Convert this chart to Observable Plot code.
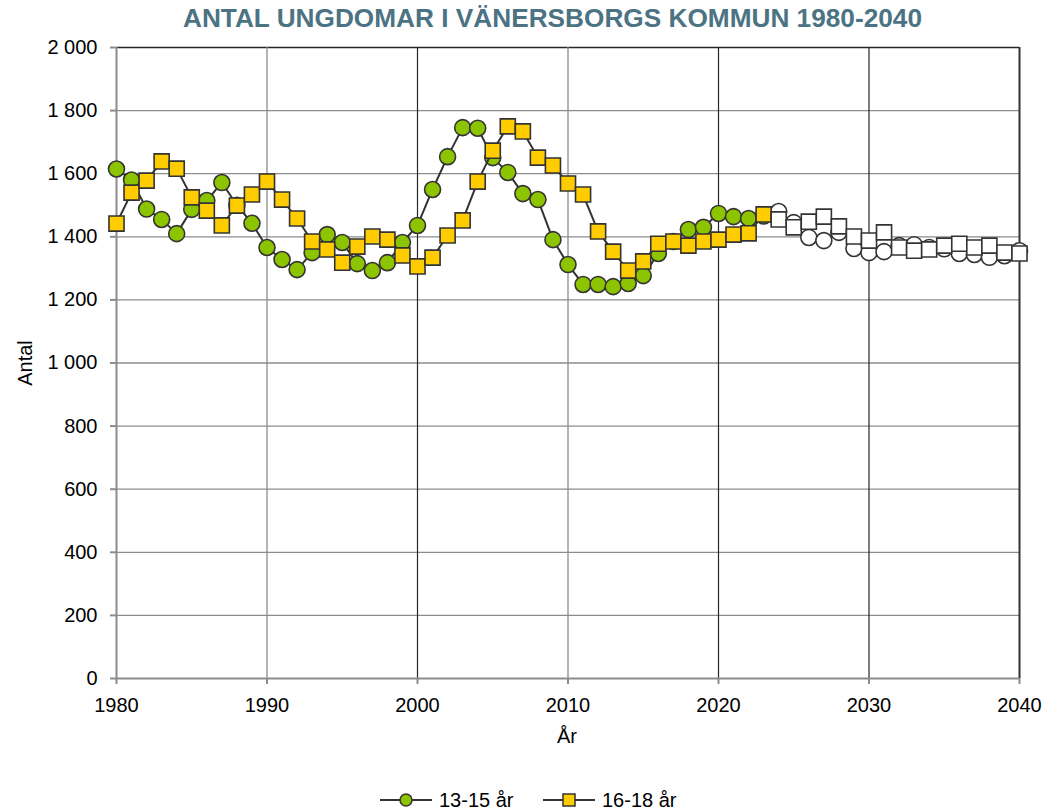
<!DOCTYPE html>
<html><head><meta charset="utf-8">
<script src="https://cdn.jsdelivr.net/npm/d3@7"></script>
<script src="https://cdn.jsdelivr.net/npm/@observablehq/plot@0.6"></script>
<style>
body{margin:0;background:#fff;font-family:"Liberation Sans",Arial,sans-serif;}
#title,#chart,#legend{width:1047px;}
svg{display:block;}
</style>
</head><body>
<div id="title"></div><div id="chart"></div><div id="legend"></div>
<script>
const titleText = "ANTAL UNGDOMAR I VÄNERSBORGS KOMMUN 1980-2040";
const yLabel = "Antal";
const xLabel = "År";
const seriesNames = ["13-15 år", "16-18 år"];

const years = [1980,1981,1982,1983,1984,1985,1986,1987,1988,1989,
  1990,1991,1992,1993,1994,1995,1996,1997,1998,1999,
  2000,2001,2002,2003,2004,2005,2006,2007,2008,2009,
  2010,2011,2012,2013,2014,2015,2016,2017,2018,2019,
  2020,2021,2022,2023,2024,2025,2026,2027,2028,2029,
  2030,2031,2032,2033,2034,2035,2036,2037,2038,2039,2040];

const age13_15 = [1615,1580,1488,1455,1410,1487,1515,1572,1500,1443,
  1366,1328,1296,1350,1407,1382,1315,1293,1318,1382,
  1436,1550,1654,1746,1744,1651,1604,1537,1518,1391,
  1312,1249,1249,1242,1252,1277,1347,1385,1423,1430,
  1474,1464,1458,1466,1480,1445,1398,1388,1414,1363,
  1350,1353,1372,1375,1366,1362,1347,1344,1335,1340,1356];

const age16_18 = [1442,1540,1578,1639,1616,1525,1483,1436,1499,1534,
  1575,1518,1458,1385,1360,1318,1369,1401,1391,1341,
  1306,1334,1404,1452,1575,1673,1750,1734,1651,1626,
  1569,1534,1417,1353,1293,1322,1378,1385,1372,1385,
  1391,1407,1411,1471,1455,1430,1448,1464,1433,1401,
  1388,1414,1366,1356,1360,1372,1378,1366,1372,1350,1347];

const projectionStart = 2024;
const yTicks = [0,200,400,600,800,1000,1200,1400,1600,1800,2000];
const xTicks = [1980,1990,2000,2010,2020,2030,2040];

const green = "#8dc400", yellow = "#ffcc00", ink = "#333333";
const grid = "#8c8c8c", darkGrid = "#262626";

const rows = years.map((year, i) => ({year, v13: age13_15[i], v16: age16_18[i]}));
const hist = rows.filter(d => d.year < projectionStart);
const proj = rows.filter(d => d.year >= projectionStart);

const fmt = d3.formatLocale({decimal: ",", thousands: "\u00a0", grouping: [3], currency: ["", " kr"]}).format(",d");

// Title
const tsvg = d3.select("#title").append("svg").attr("width", 1047).attr("height", 36);
tsvg.append("text").attr("x", 183).attr("y", 27)
  .attr("textLength", 739).attr("lengthAdjust", "spacingAndGlyphs")
  .style("font-family", "'Liberation Sans Narrow','Liberation Sans',Arial,sans-serif")
  .style("font-weight", "bold").style("font-size", "26px").attr("fill", "#4b7383")
  .text(titleText);

const chart = Plot.plot({
  width: 1047, height: 720,
  marginLeft: 116, marginRight: 28, marginTop: 11, marginBottom: 78,
  style: {fontFamily: "'Liberation Sans',Arial,sans-serif", fontSize: "20px", color: "black", background: "white"},
  x: {domain: [1980, 2040]},
  y: {domain: [0, 2000]},
  marks: [
    Plot.ruleY(yTicks.filter(t => t > 0 && t < 2000), {stroke: grid, strokeWidth: 1.3}),
    Plot.ruleY([2000], {stroke: darkGrid, strokeWidth: 1.3}),
    Plot.ruleX([1990, 2010], {stroke: grid, strokeWidth: 1.3}),
    Plot.ruleX([2000, 2020, 2030], {stroke: darkGrid, strokeWidth: 1.2}),
    Plot.ruleX([2040], {stroke: "#333", strokeWidth: 2}),
    Plot.ruleY([0], {stroke: grid, strokeWidth: 2}),
    Plot.ruleX([1980], {stroke: grid, strokeWidth: 2}),
    Plot.axisX({ticks: xTicks, tickFormat: d => String(d), tickSize: 6, tickPadding: 13, stroke: grid, strokeWidth: 2, fill: "black", label: null}),
    Plot.axisY({ticks: yTicks, tickFormat: fmt, tickSize: 6, tickPadding: 13, stroke: grid, strokeWidth: 2, fill: "black", label: null}),
    Plot.lineY(hist, {x: "year", y: "v13", stroke: ink, strokeWidth: 2}),
    Plot.dot(hist, {x: "year", y: "v13", r: 8, fill: green, stroke: ink, strokeWidth: 1.6}),
    Plot.dot(proj, {x: "year", y: "v13", r: 8, fill: "white", stroke: ink, strokeWidth: 1.6}),
    Plot.lineY(hist, {x: "year", y: "v16", stroke: ink, strokeWidth: 2}),
    Plot.dot(hist, {x: "year", y: "v16", symbol: "square", r: 8.5, fill: yellow, stroke: ink, strokeWidth: 1.6}),
    Plot.dot(proj, {x: "year", y: "v16", symbol: "square", r: 8.5, fill: "white", stroke: ink, strokeWidth: 1.6})
  ]
});
document.getElementById("chart").appendChild(chart);

const svg = d3.select(chart);
svg.append("text").attr("x", 567).attr("y", 707).attr("text-anchor", "middle")
  .style("font-size", "20px").attr("fill", "black").text(xLabel);
svg.append("text").attr("transform", "translate(32,327) rotate(-90)").attr("text-anchor", "middle")
  .style("font-size", "20px").attr("fill", "black").text(yLabel);

// Legend
const lsvg = d3.select("#legend").append("svg").attr("width", 1047).attr("height", 55)
  .style("font-family", "'Liberation Sans',Arial,sans-serif");
const items = [
  {x0: 380, name: seriesNames[0], sym: "circle", fill: green},
  {x0: 543, name: seriesNames[1], sym: "square", fill: yellow}
];
const ly = 44;
items.forEach(it => {
  lsvg.append("line").attr("x1", it.x0).attr("x2", it.x0 + 52).attr("y1", ly).attr("y2", ly)
    .attr("stroke", ink).attr("stroke-width", 2);
  if (it.sym === "circle") {
    lsvg.append("circle").attr("cx", it.x0 + 26).attr("cy", ly).attr("r", 6)
      .attr("fill", it.fill).attr("stroke", ink).attr("stroke-width", 1.5);
  } else {
    lsvg.append("rect").attr("x", it.x0 + 20).attr("y", ly - 6).attr("width", 12).attr("height", 12)
      .attr("fill", it.fill).attr("stroke", ink).attr("stroke-width", 1.5);
  }
  lsvg.append("text").attr("x", it.x0 + 59).attr("y", ly + 7).style("font-size", "20px")
    .attr("fill", "black").text(it.name);
});
</script>
</body></html>
